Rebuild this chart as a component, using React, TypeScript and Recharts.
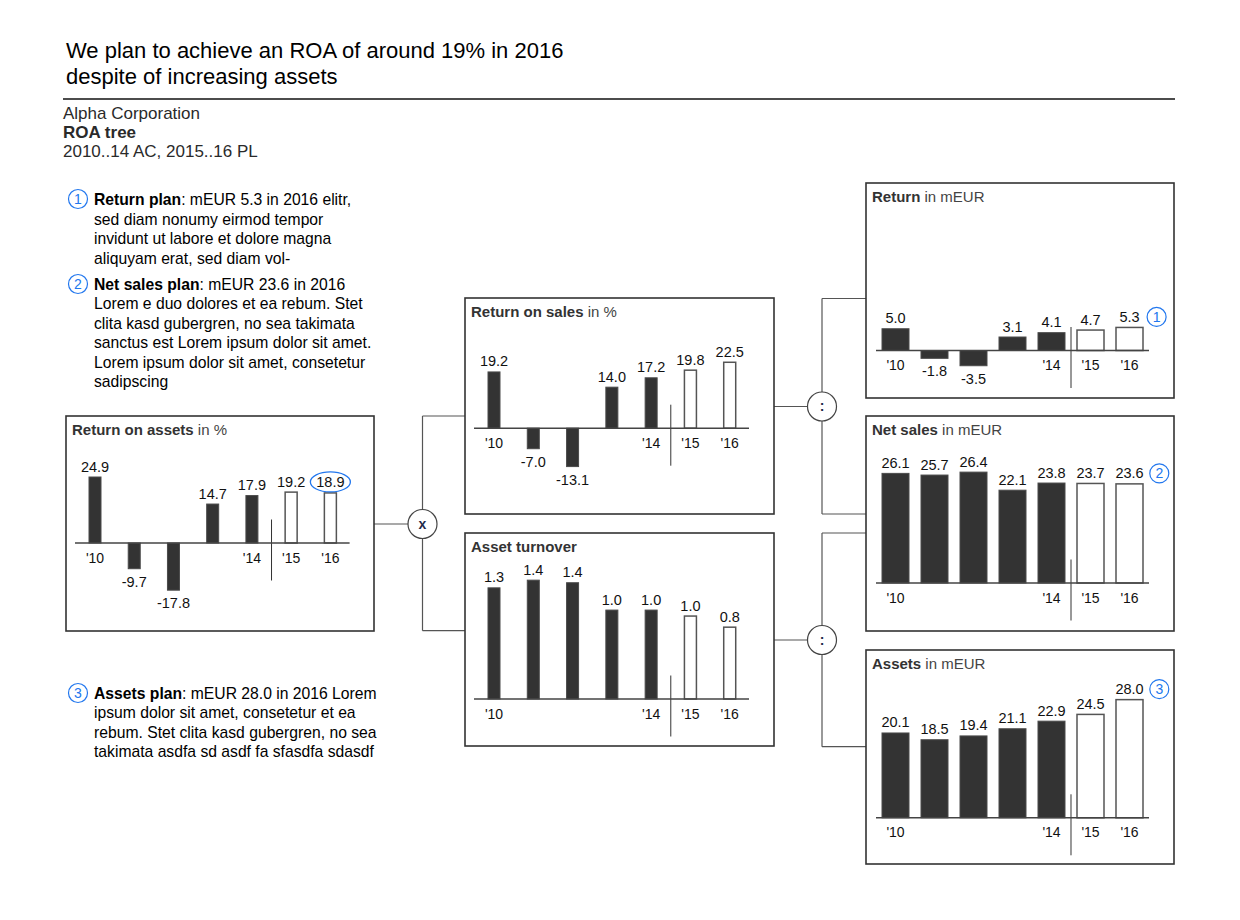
import React from 'react';
import { BarChart, Bar, XAxis, YAxis, ReferenceLine } from 'recharts';

const FONT = '"Liberation Sans", Arial, Helvetica, sans-serif';
const BLUE = '#2277ee';

// ---------- data ----------
const categories = ["'10", "'11", "'12", "'13", "'14", "'15", "'16"];
const tickLabels = ["'10", '', '', '', "'14", "'15", "'16"];
const scenarios = ['AC', 'AC', 'AC', 'AC', 'AC', 'PL', 'PL'];

const roaValues = [24.9, -9.7, -17.8, 14.7, 17.9, 19.2, 18.9];
const rosValues = [19.2, -7.0, -13.1, 14.0, 17.2, 19.8, 22.5];
const turnoverValues = [1.3, 1.39, 1.36, 1.04, 1.04, 0.97, 0.84];
const returnValues = [5.0, -1.8, -3.5, 3.1, 4.1, 4.7, 5.3];
const salesValues = [26.1, 25.7, 26.4, 22.1, 23.8, 23.7, 23.6];
const assetsValues = [20.1, 18.5, 19.4, 21.1, 22.9, 24.5, 28.0];

const titleLines = ['We plan to achieve an ROA of around 19% in 2016', 'despite of increasing assets'];
const subtitleLines = ['Alpha Corporation', 'ROA tree', '2010..14 AC, 2015..16 PL'];

const note1 = {
  num: '1', bold: 'Return plan', rest: ': mEUR 5.3 in 2016 elitr,',
  lines: ['sed diam nonumy eirmod tempor', 'invidunt ut labore et dolore magna', 'aliquyam erat, sed diam vol-'],
};
const note2 = {
  num: '2', bold: 'Net sales plan', rest: ': mEUR 23.6 in 2016',
  lines: [
    'Lorem e duo dolores et ea rebum. Stet',
    'clita kasd gubergren, no sea takimata',
    'sanctus est Lorem ipsum dolor sit amet.',
    'Lorem ipsum dolor sit amet, consetetur',
    'sadipscing',
  ],
};
const note3 = {
  num: '3', bold: 'Assets plan', rest: ': mEUR 28.0 in 2016 Lorem',
  lines: ['ipsum dolor sit amet, consetetur et ea', 'rebum. Stet clita kasd gubergren, no sea', 'takimata asdfa sd asdf fa sfasdfa sdasdf'],
};

// ---------- layout ----------
type ChartCfg = {
  box: [number, number, number, number];
  titleBold: string;
  titleRest: string;
  values: number[];
  domain: [number, number];
  baseline: number;
  scale: number;
  plotLeft: number;
  plotRight: number;
  barSize: number;
  mark?: string;
};

const charts: ChartCfg[] = [
  { box: [66, 416, 308, 215], titleBold: 'Return on assets', titleRest: ' in %', values: roaValues, domain: [-40, 40], baseline: 543, scale: 2.65, plotLeft: 75, plotRight: 349.6, barSize: 12, mark: 'ellipse' },
  { box: [465, 298, 309, 216], titleBold: 'Return on sales', titleRest: ' in %', values: rosValues, domain: [-40, 40], baseline: 428, scale: 2.93, plotLeft: 474, plotRight: 749, barSize: 12 },
  { box: [465, 533, 309, 213], titleBold: 'Asset turnover', titleRest: '', values: turnoverValues, domain: [0, 2], baseline: 699.3, scale: 85.5, plotLeft: 474, plotRight: 749, barSize: 12 },
  { box: [866, 183, 308, 215], titleBold: 'Return', titleRest: '  in mEUR', values: returnValues, domain: [-10, 10], baseline: 350, scale: 4.35, plotLeft: 876, plotRight: 1149, barSize: 27, mark: '1' },
  { box: [866, 416, 308, 215], titleBold: 'Net sales', titleRest: ' in mEUR', values: salesValues, domain: [0, 40], baseline: 583, scale: 4.2, plotLeft: 876, plotRight: 1149, barSize: 27, mark: '2' },
  { box: [866, 650, 308, 214], titleBold: 'Assets', titleRest: ' in mEUR', values: assetsValues, domain: [0, 40], baseline: 817.3, scale: 4.22, plotLeft: 876, plotRight: 1149, barSize: 27, mark: '3' },
];

const makeShape = (cfg: ChartCfg) => (props: any) => {
  const { x, y, width, height, payload } = props;
  if (x == null || y == null) return <g />;
  const v: number = payload && typeof payload.value === 'number' ? payload.value : props.value;
  const idx = categories.indexOf(payload?.name);
  const h0 = height || 0;
  const top = Math.min(y, y + h0);
  const bottom = Math.max(y, y + h0);
  const plan = payload?.scenario === 'PL';
  const baseY = v >= 0 ? bottom : top;
  const cx = x + width / 2;
  const label = v.toFixed(1);
  const labelY = v >= 0 ? top - 5.5 : bottom + 18;
  const band = (cfg.plotRight - cfg.plotLeft) / categories.length;
  const tick = tickLabels[idx];
  const isFirstPlanPrev = idx >= 0 && idx < categories.length - 1 && scenarios[idx] === 'AC' && scenarios[idx + 1] === 'PL';
  const isLast = idx === categories.length - 1;
  return (
    <g>
      <rect
        x={x}
        y={top}
        width={width}
        height={Math.max(bottom - top, 0.5)}
        fill={plan ? '#ffffff' : '#333333'}
        stroke={plan ? '#555555' : '#4a4a4a'}
        strokeWidth={plan ? 1.5 : 1}
      />
      <text x={cx} y={labelY} textAnchor="middle" fontFamily={FONT} fontSize={14.5} fill="#111">
        {label}
      </text>
      {tick ? (
        <text x={cx} y={v >= 0 ? baseY + 19.5 : baseY - 6} textAnchor="middle" fontFamily={FONT} fontSize={14} fill="#111">
          {tick}
        </text>
      ) : null}
      {isFirstPlanPrev ? (
        <line x1={cx + band / 2} x2={cx + band / 2} y1={baseY - 23.5} y2={baseY + 37.5} stroke="#333" strokeWidth={1} />
      ) : null}
      {isLast && cfg.mark === 'ellipse' ? (
        <ellipse cx={cx} cy={labelY - 5.5} rx={20} ry={10} fill="none" stroke={BLUE} strokeWidth={1.3} />
      ) : null}
      {isLast && cfg.mark && cfg.mark !== 'ellipse' ? (
        <g>
          <circle cx={cx + 19 + 2.7 * label.length} cy={labelY - 5} r={9.5} fill="#fff" stroke={BLUE} strokeWidth={1.2} />
          <text x={cx + 19 + 2.7 * label.length} y={labelY} textAnchor="middle" fontFamily={FONT} fontSize={14} fill={BLUE}>
            {cfg.mark}
          </text>
        </g>
      ) : null}
    </g>
  );
};

function MiniChart({ cfg }: { cfg: ChartCfg }) {
  const [bx, , bw] = cfg.box;
  const M = 40;
  const plotTop = cfg.baseline - cfg.domain[1] * cfg.scale;
  const plotH = (cfg.domain[1] - cfg.domain[0]) * cfg.scale;
  const left = cfg.plotLeft - bx;
  const right = bx + bw - cfg.plotRight;
  const data = categories.map((name, i) => ({ name, value: cfg.values[i], scenario: scenarios[i] }));
  return (
    <div style={{ position: 'absolute', left: bx, top: plotTop - M }}>
      <BarChart width={bw} height={plotH + 2 * M} data={data} margin={{ top: M, bottom: M, left, right }}>
        <XAxis dataKey="name" hide />
        <YAxis hide type="number" domain={cfg.domain} />
        <ReferenceLine y={0} stroke="#444" strokeWidth={1.5} />
        <Bar dataKey="value" barSize={cfg.barSize} isAnimationActive={false} shape={makeShape(cfg)} />
      </BarChart>
    </div>
  );
}

function Note({ note, x, y, lh }: { note: typeof note1; x: number; y: number; lh: number }) {
  return (
    <g>
      <circle cx={78} cy={y - 6} r={9.5} fill="#fff" stroke={BLUE} strokeWidth={1.2} />
      <text x={78} y={y - 0.8} textAnchor="middle" fontFamily={FONT} fontSize={14} fill={BLUE}>
        {note.num}
      </text>
      <text x={x} y={y} fontFamily={FONT} fontSize={15.7} fill="#000">
        <tspan fontWeight="bold">{note.bold}</tspan>
        <tspan>{note.rest}</tspan>
      </text>
      {note.lines.map((l, i) => (
        <text key={i} x={x} y={y + lh * (i + 1)} fontFamily={FONT} fontSize={15.7} fill="#000">
          {l}
        </text>
      ))}
    </g>
  );
}

function Connector({ fromX, y, cx, top, bottom, toX, sym }: { fromX: number; y: number; cx: number; top: number; bottom: number; toX: number; sym: string }) {
  return (
    <g stroke="#555" strokeWidth={1.2} fill="none">
      <line x1={fromX} x2={cx} y1={y} y2={y} />
      <line x1={cx} x2={cx} y1={top} y2={bottom} />
      <line x1={cx} x2={toX} y1={top} y2={top} />
      <line x1={cx} x2={toX} y1={bottom} y2={bottom} />
      <circle cx={cx} cy={y} r={14.5} fill="#fff" stroke="#444" strokeWidth={1.2} />
      <text x={cx} y={y + 4.5} textAnchor="middle" fontFamily={FONT} fontSize={14} fontWeight="bold" fill="#1e2a4a" stroke="none">
        {sym}
      </text>
    </g>
  );
}

export default function App() {
  return (
    <div style={{ position: 'absolute', left: 0, top: 0, width: 1240, height: 920, background: '#fff', overflow: 'hidden' }}>
      {charts.map((c, i) => (
        <MiniChart key={i} cfg={c} />
      ))}
      <svg width={1240} height={920} style={{ position: 'absolute', left: 0, top: 0, pointerEvents: 'none' }}>
        {titleLines.map((t, i) => (
          <text key={i} x={66} y={58 + i * 26} fontFamily={FONT} fontSize={22} fill="#000">
            {t}
          </text>
        ))}
        <line x1={63} x2={1175} y1={99} y2={99} stroke="#111" strokeWidth={1.6} />
        {subtitleLines.map((t, i) => (
          <text key={i} x={63} y={119 + i * 19.2} fontFamily={FONT} fontSize={17} fontWeight={i === 1 ? 'bold' : 'normal'} fill="#2a2a2a">
            {t}
          </text>
        ))}
        <Note note={note1} x={94} y={205} lh={19.5} />
        <Note note={note2} x={94} y={290} lh={19.4} />
        <Note note={note3} x={94} y={699} lh={19.4} />

        <Connector fromX={374} y={524} cx={422.5} top={416} bottom={630.7} toX={465} sym="x" />
        <Connector fromX={774} y={406.5} cx={822} top={298.5} bottom={514} toX={866} sym=":" />
        <Connector fromX={774} y={640} cx={822} top={533} bottom={746.7} toX={866} sym=":" />

        {charts.map((c, i) => (
          <g key={i}>
            <rect x={c.box[0]} y={c.box[1]} width={c.box[2]} height={c.box[3]} fill="none" stroke="#333" strokeWidth={1.6} />
            <text x={c.box[0] + 6} y={c.box[1] + 18.5} fontFamily={FONT} fontSize={15} fill="#333">
              <tspan fontWeight="bold">{c.titleBold}</tspan>
              {c.titleRest ? <tspan fill="#444">{c.titleRest}</tspan> : null}
            </text>
          </g>
        ))}
      </svg>
    </div>
  );
}
